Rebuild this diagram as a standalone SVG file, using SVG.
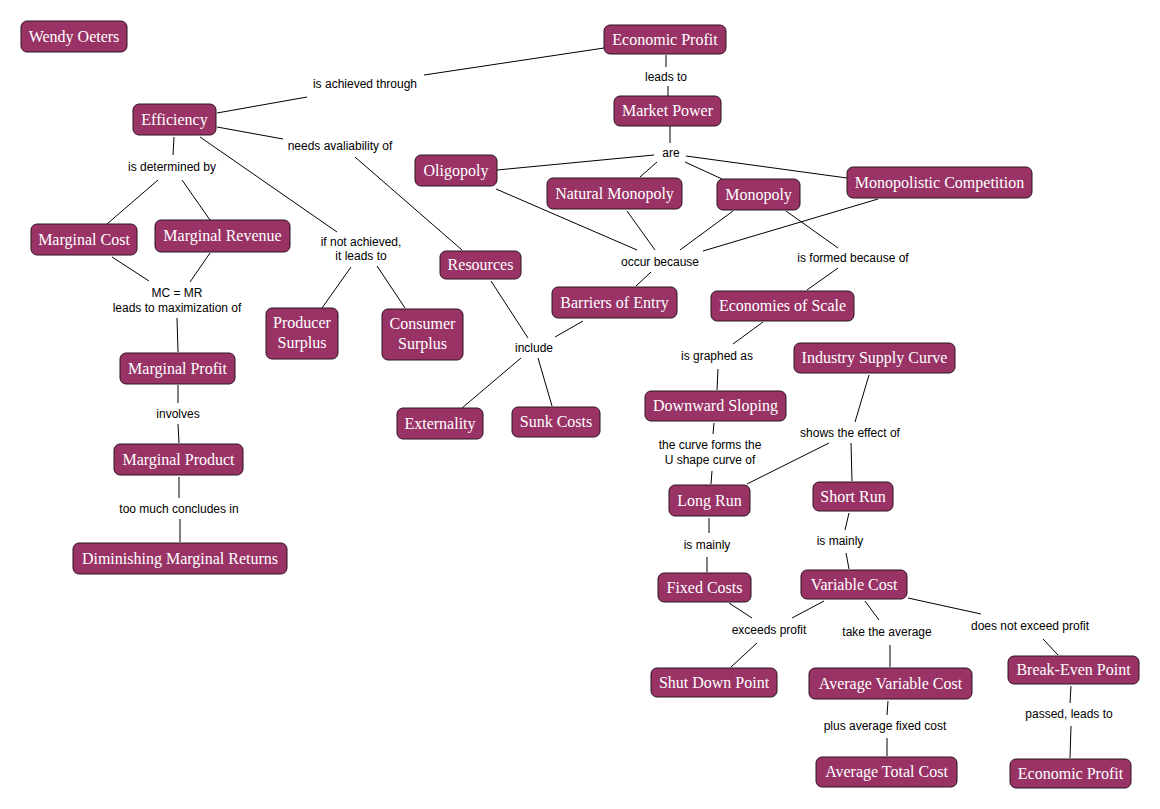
<svg xmlns="http://www.w3.org/2000/svg" width="1160" height="809" viewBox="0 0 1160 809">
<style>
.n rect{fill:#993366;stroke:#2a1420;stroke-width:1}
.n text{font-family:"Liberation Serif","Times New Roman",serif;font-size:16px;fill:#ffffff;text-anchor:middle}
.l{font-family:"Liberation Sans",Arial,sans-serif;font-size:12px;fill:#000;text-anchor:middle}
#connectors line{stroke:#000;stroke-width:1}
</style>
<rect width="1160" height="809" fill="#fff"/>
<g id="connectors">
<line x1="217" y1="113" x2="307" y2="97"/><line x1="424" y1="75" x2="604" y2="48"/>
<line x1="666" y1="55" x2="666" y2="67"/><line x1="668" y1="86" x2="668" y2="96"/>
<line x1="670" y1="126" x2="670" y2="143"/><line x1="654" y1="155" x2="497" y2="170"/>
<line x1="657" y1="162" x2="640" y2="177"/><line x1="685" y1="162" x2="722" y2="179"/>
<line x1="686" y1="156" x2="847" y2="178"/>
<line x1="217" y1="127" x2="283" y2="139"/><line x1="355" y1="157" x2="462" y2="250"/>
<line x1="174" y1="137" x2="173" y2="155"/><line x1="158" y1="180" x2="107" y2="224"/>
<line x1="182" y1="180" x2="210" y2="220"/>
<line x1="200" y1="137" x2="337" y2="232"/><line x1="351" y1="267" x2="322" y2="308"/>
<line x1="377" y1="266" x2="405" y2="308"/>
<line x1="112" y1="257" x2="149" y2="281"/><line x1="210" y1="253" x2="190" y2="282"/>
<line x1="177" y1="318" x2="178" y2="352"/>
<line x1="178" y1="385" x2="178" y2="403"/><line x1="178" y1="424" x2="179" y2="443"/>
<line x1="179" y1="477" x2="179" y2="498"/><line x1="180" y1="519" x2="180" y2="542"/>
<line x1="496" y1="189" x2="637" y2="250"/><line x1="627" y1="211" x2="655" y2="250"/>
<line x1="733" y1="211" x2="680" y2="250"/><line x1="878" y1="199" x2="703" y2="251"/>
<line x1="651" y1="272" x2="636" y2="286"/>
<line x1="786" y1="211" x2="838" y2="248"/><line x1="838" y1="268" x2="807" y2="290"/>
<line x1="491" y1="281" x2="528" y2="338"/><line x1="583" y1="321" x2="555" y2="337"/>
<line x1="521" y1="358" x2="462" y2="408"/><line x1="538" y1="358" x2="552" y2="406"/>
<line x1="763" y1="322" x2="733" y2="344"/><line x1="718" y1="369" x2="717" y2="390"/>
<line x1="714" y1="423" x2="713" y2="434"/><line x1="712" y1="471" x2="711" y2="484"/>
<line x1="869" y1="375" x2="855" y2="422"/><line x1="829" y1="443" x2="747" y2="484"/>
<line x1="851" y1="443" x2="852" y2="481"/>
<line x1="709" y1="518" x2="709" y2="533"/><line x1="707" y1="557" x2="707" y2="572"/>
<line x1="849" y1="513" x2="845" y2="530"/><line x1="846" y1="553" x2="849" y2="569"/>
<line x1="729" y1="603" x2="752" y2="618"/><line x1="824" y1="601" x2="792" y2="618"/>
<line x1="757" y1="643" x2="731" y2="667"/>
<line x1="865" y1="601" x2="879" y2="620"/><line x1="890" y1="645" x2="890" y2="667"/>
<line x1="908" y1="598" x2="981" y2="614"/><line x1="1043" y1="639" x2="1058" y2="655"/>
<line x1="888" y1="701" x2="887" y2="715"/><line x1="887" y1="738" x2="887" y2="756"/>
<line x1="1071" y1="686" x2="1070" y2="703"/><line x1="1071" y1="726" x2="1070" y2="758"/>
</g>
<g id="labels">
<text class="l" x="365" y="88">is achieved through</text>
<text class="l" x="666" y="81">leads to</text>
<text class="l" x="671" y="157">are</text>
<text class="l" x="340" y="150">needs avaliability of</text>
<text class="l" x="172" y="171">is determined by</text>
<text class="l" x="361" y="246">if not achieved,</text>
<text class="l" x="361" y="260">it leads to</text>
<text class="l" x="177" y="297">MC = MR</text>
<text class="l" x="177" y="312">leads to maximization of</text>
<text class="l" x="660" y="266">occur because</text>
<text class="l" x="853" y="262">is formed because of</text>
<text class="l" x="534" y="352">include</text>
<text class="l" x="717" y="360">is graphed as</text>
<text class="l" x="178" y="418">involves</text>
<text class="l" x="710" y="449">the curve forms the</text>
<text class="l" x="710" y="464">U shape curve of</text>
<text class="l" x="850" y="437">shows the effect of</text>
<text class="l" x="179" y="513">too much concludes in</text>
<text class="l" x="707" y="549">is mainly</text>
<text class="l" x="840" y="545">is mainly</text>
<text class="l" x="769" y="634">exceeds profit</text>
<text class="l" x="887" y="636">take the average</text>
<text class="l" x="1030" y="630">does not exceed profit</text>
<text class="l" x="885" y="730">plus average fixed cost</text>
<text class="l" x="1069" y="718">passed, leads to</text>
</g>
<g id="n-wendy" class="n"><rect x="21" y="21" width="106" height="31" rx="6"/><text x="74" y="42">Wendy Oeters</text></g>
<g id="n-efficiency" class="n"><rect x="133" y="104" width="83" height="31" rx="6"/><text x="174.5" y="125">Efficiency</text></g>
<g id="n-econprofit1" class="n"><rect x="604" y="25" width="122" height="29" rx="6"/><text x="665" y="45">Economic Profit</text></g>
<g id="n-marketpower" class="n"><rect x="614" y="96" width="107" height="30" rx="6"/><text x="667.5" y="116">Market Power</text></g>
<g id="n-oligopoly" class="n"><rect x="415" y="155" width="82" height="31" rx="6"/><text x="456" y="176">Oligopoly</text></g>
<g id="n-natmonopoly" class="n"><rect x="547" y="178" width="135" height="31" rx="6"/><text x="614.5" y="199">Natural Monopoly</text></g>
<g id="n-monopoly" class="n"><rect x="717" y="179" width="83" height="31" rx="6"/><text x="758.5" y="200">Monopoly</text></g>
<g id="n-monocomp" class="n"><rect x="847" y="167" width="185" height="31" rx="6"/><text x="939.5" y="188">Monopolistic Competition</text></g>
<g id="n-econscale" class="n"><rect x="711" y="291" width="143" height="30" rx="6"/><text x="782.5" y="311">Economies of Scale</text></g>
<g id="n-barriers" class="n"><rect x="552" y="287" width="125" height="31" rx="6"/><text x="614.5" y="308">Barriers of Entry</text></g>
<g id="n-resources" class="n"><rect x="440" y="251" width="81" height="28" rx="6"/><text x="480.5" y="270">Resources</text></g>
<g id="n-consumer" class="n"><rect x="382" y="309" width="81" height="51" rx="6"/><text x="422.5" y="329">Consumer</text><text x="422.5" y="349">Surplus</text></g>
<g id="n-producer" class="n"><rect x="266" y="308" width="72" height="51" rx="6"/><text x="302" y="328">Producer</text><text x="302" y="348">Surplus</text></g>
<g id="n-mcost" class="n"><rect x="31" y="224" width="106" height="31" rx="6"/><text x="84" y="245">Marginal Cost</text></g>
<g id="n-mrevenue" class="n"><rect x="155" y="220" width="135" height="32" rx="6"/><text x="222.5" y="241">Marginal Revenue</text></g>
<g id="n-mprofit" class="n"><rect x="120" y="353" width="115" height="31" rx="6"/><text x="177.5" y="374">Marginal Profit</text></g>
<g id="n-mproduct" class="n"><rect x="114" y="444" width="129" height="31" rx="6"/><text x="178.5" y="465">Marginal Product</text></g>
<g id="n-dmr" class="n"><rect x="73" y="543" width="214" height="31" rx="6"/><text x="180" y="564">Diminishing Marginal Returns</text></g>
<g id="n-externality" class="n"><rect x="397" y="408" width="86" height="31" rx="6"/><text x="440" y="429">Externality</text></g>
<g id="n-sunk" class="n"><rect x="512" y="407" width="88" height="30" rx="6"/><text x="556" y="427">Sunk Costs</text></g>
<g id="n-downward" class="n"><rect x="645" y="391" width="141" height="30" rx="6"/><text x="715.5" y="411">Downward Sloping</text></g>
<g id="n-industry" class="n"><rect x="794" y="343" width="161" height="30" rx="6"/><text x="874.5" y="363">Industry Supply Curve</text></g>
<g id="n-longrun" class="n"><rect x="669" y="485" width="81" height="31" rx="6"/><text x="709.5" y="506">Long Run</text></g>
<g id="n-shortrun" class="n"><rect x="813" y="482" width="80" height="29" rx="6"/><text x="853" y="502">Short Run</text></g>
<g id="n-fixed" class="n"><rect x="658" y="573" width="93" height="29" rx="6"/><text x="704.5" y="593">Fixed Costs</text></g>
<g id="n-variable" class="n"><rect x="801" y="570" width="106" height="29" rx="6"/><text x="854" y="590">Variable Cost</text></g>
<g id="n-shutdown" class="n"><rect x="651" y="668" width="126" height="29" rx="6"/><text x="714" y="688">Shut Down Point</text></g>
<g id="n-avc" class="n"><rect x="809" y="668" width="163" height="31" rx="6"/><text x="890.5" y="689">Average Variable Cost</text></g>
<g id="n-breakeven" class="n"><rect x="1008" y="656" width="131" height="28" rx="6"/><text x="1073.5" y="675">Break-Even Point</text></g>
<g id="n-atc" class="n"><rect x="816" y="757" width="141" height="30" rx="6"/><text x="886.5" y="777">Average Total Cost</text></g>
<g id="n-econprofit2" class="n"><rect x="1010" y="759" width="121" height="29" rx="6"/><text x="1070.5" y="779">Economic Profit</text></g>
</svg>
